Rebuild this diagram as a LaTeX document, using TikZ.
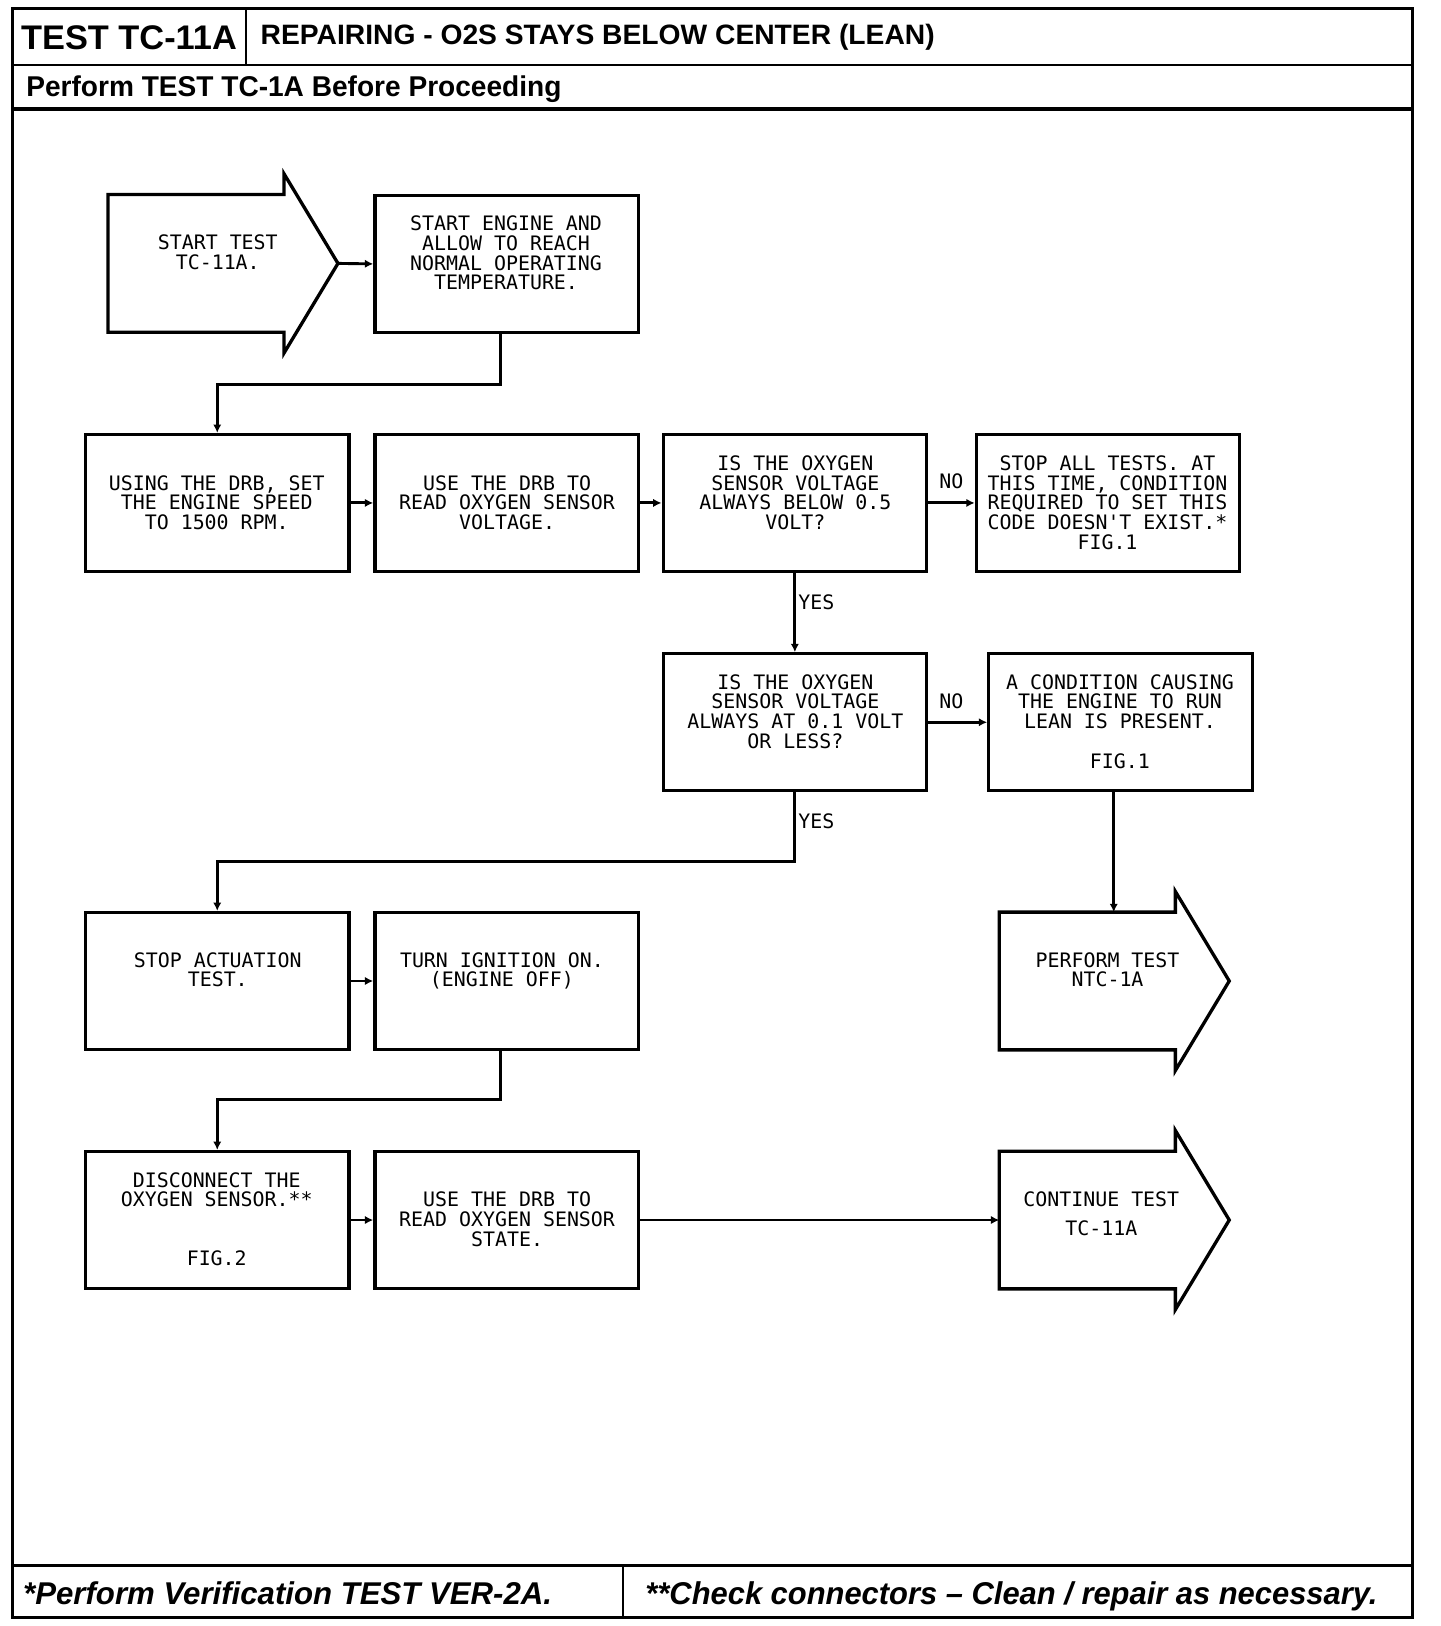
\documentclass[tikz,border=0pt]{standalone}
\usepackage{fontspec}
\usetikzlibrary{arrows.meta,calc}
\newfontfamily\boxfont{DejaVu Sans Mono}
\newfontfamily\headfont{Liberation Sans}
\begin{document}
\begin{tikzpicture}[x=0.5pt,y=-0.5pt,
  box/.style={draw,line width=1.6pt,rectangle,minimum width=127pt,minimum height=66pt,inner sep=0pt},
  body/.style={rectangle,minimum width=84.5pt,minimum height=66pt,inner sep=0pt},
  txt/.style={font=\boxfont\fontsize{9.6}{9.5}\selectfont,align=center,inner sep=0pt,anchor=north},
  lbl/.style={font=\boxfont\fontsize{9.6}{9.5}\selectfont,inner sep=0pt},
  conn/.style={line width=1.4pt,-{Latex[length=4pt,width=4pt]}},
  outl/.style={line width=1.6pt,line join=miter},
  hd/.style={inner sep=0pt,anchor=base west,font=\headfont\bfseries}]
\useasboundingbox (0,0) rectangle (1389,1568);

% frame
\draw[line width=1.5pt] (12,8) rectangle (1362,1560);
\draw[line width=1pt] (237,8) -- (237,63);
\draw[line width=1pt] (12,63) -- (1362,63);
\draw[line width=2pt] (12,105) -- (1362,105);
\draw[line width=1.5pt] (12,1510) -- (1362,1510);
\draw[line width=1pt] (601,1510) -- (601,1560);

% headings
\node[hd] (code) at (20,48) {\resizebox{104pt}{11.5pt}{TEST TC-11A}};
\node[hd] (title) at (251,43) {\resizebox{325pt}{9.8pt}{REPAIRING - O2S STAYS BELOW CENTER (LEAN)}};
\node[hd] (pre) at (25,93) {\resizebox{258pt}{10pt}{Perform TEST TC-1A Before Proceeding}};
\node[hd,font=\headfont\bfseries\itshape] (foot1) at (22,1547) {\resizebox{255pt}{11pt}{*Perform Verification TEST VER-2A.}};
\node[hd,font=\headfont\bfseries\itshape] (foot2) at (622,1547) {\resizebox{353pt}{11pt}{**Check connectors – Clean / repair as necessary.}};

% start arrow
\node[body] (s0) at (189,254) {};
\draw[outl] (s0.north west) -- (s0.north east) -- ++(0,-20) -- ($(s0.east)+(52,0)$) -- ($(s0.south east)+(0,20)$) -- (s0.south east) -- (s0.south west) -- cycle;
\coordinate (s0tip) at ($(s0.east)+(52,0)$);
\node[txt] (t0) at (210,226) {START TEST\\TC-11A.};

% boxes
\node[box] (b1) at (488.5,254.5) {};
\node[txt] (t1) at (488,208) {START ENGINE AND\\ALLOW TO REACH\\NORMAL OPERATING\\TEMPERATURE.};

\node[box] (b2) at (209.5,485) {};
\node[txt] (t2) at (209,458) {USING THE DRB, SET\\THE ENGINE SPEED\\TO 1500 RPM.};
\node[box] (b3) at (488.5,485) {};
\node[txt] (t3) at (489,458) {USE THE DRB TO\\READ OXYGEN SENSOR\\VOLTAGE.};
\node[box] (b4) at (766.5,485) {};
\node[txt] (t4) at (767,439) {IS THE OXYGEN\\SENSOR VOLTAGE\\ALWAYS BELOW 0.5\\VOLT?};
\node[box] (b5) at (1068.5,485) {};
\node[txt] (t5) at (1068,439) {STOP ALL TESTS. AT\\THIS TIME, CONDITION\\REQUIRED TO SET THIS\\CODE DOESN'T EXIST.*\\FIG.1};

\node[box] (b6) at (766.5,696.5) {};
\node[txt] (t6) at (767,650) {IS THE OXYGEN\\SENSOR VOLTAGE\\ALWAYS AT 0.1 VOLT\\OR LESS?};
\node[box] (b7) at (1080.5,696.5) {};
\node[txt] (t7) at (1080,650) {A CONDITION CAUSING\\THE ENGINE TO RUN\\LEAN IS PRESENT.\\[9.5pt]FIG.1};

\node[box] (b8) at (209.5,946) {};
\node[txt] (t8) at (210,918) {STOP ACTUATION\\TEST.};
\node[box] (b9) at (488.5,946) {};
\node[txt] (t9) at (484,918) {TURN IGNITION ON.\\(ENGINE OFF)};

\node[body] (a2) at (1048.5,946) {};
\draw[outl] (a2.north west) -- (a2.north east) -- ++(0,-20) -- ($(a2.east)+(52,0)$) -- ($(a2.south east)+(0,20)$) -- (a2.south east) -- (a2.south west) -- cycle;
\node[txt] (ta2) at (1068,918) {PERFORM TEST\\NTC-1A};

\node[box] (b10) at (209.5,1176.5) {};
\node[txt] (t10) at (209,1130) {DISCONNECT THE\\OXYGEN SENSOR.**\\[19pt]FIG.2};
\node[box] (b11) at (488.5,1176.5) {};
\node[txt] (t11) at (489,1149) {USE THE DRB TO\\READ OXYGEN SENSOR\\STATE.};

\node[body] (a3) at (1048.5,1176.5) {};
\draw[outl] (a3.north west) -- (a3.north east) -- ++(0,-20) -- ($(a3.east)+(52,0)$) -- ($(a3.south east)+(0,20)$) -- (a3.south east) -- (a3.south west) -- cycle;
\node[txt] (ta3) at (1062,1149) {CONTINUE TEST\\[4.5pt]TC-11A};

% connectors
\coordinate (c1) at ([xshift=-2.75pt]b1.south);
\coordinate (c9) at ([xshift=-2.75pt]b9.south);
\coordinate (c7) at ([xshift=-3.25pt]b7.south);
\draw[conn] (s0tip) -- (b1.west);
\draw[conn] (c1) -- ++(0,48.5) -| (b2.north);
\draw[conn] (b2.east) -- (b3.west);
\draw[conn] (b3.east) -- (b4.west);
\draw[conn] (b4.east) -- node[lbl,above=6pt] (no1) {NO} (b5.west);
\draw[conn] (b4.south) -- node[lbl,pos=0.37,anchor=west,xshift=1pt] (yes1) {YES} (b6.north);
\draw[conn] (b6.east) -- node[lbl,above=6pt,xshift=-3pt] (no2) {NO} (b7.west);
\draw[conn] (c7) -- (c7 |- a2.north);
\draw[conn] (b6.south) -- node[lbl,pos=0.42,anchor=west,xshift=1pt] (yes2) {YES} ++(0,67) -| (b8.north);
\draw[conn] (b8.east) -- (b9.west);
\draw[conn] (c9) -- ++(0,47) -| (b10.north);
\draw[conn] (b10.east) -- (b11.west);
\draw[conn] (b11.east) -- (a3.west);
\end{tikzpicture}
\end{document}
